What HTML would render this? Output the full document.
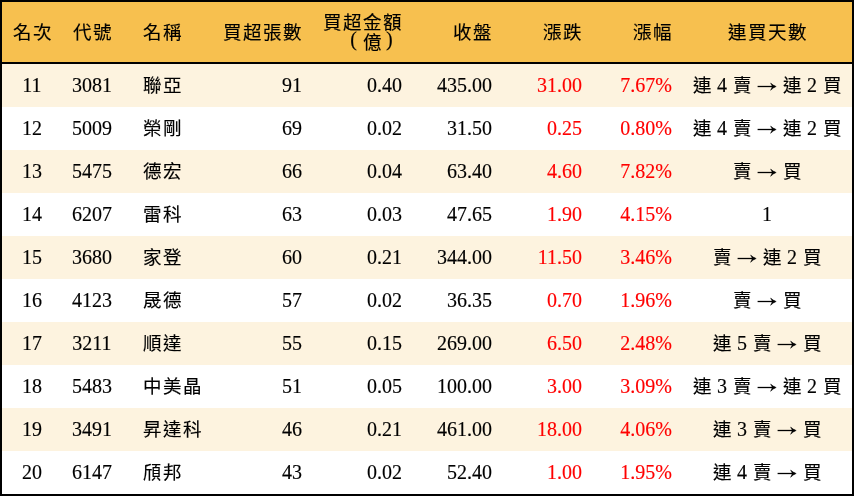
<!DOCTYPE html><html lang="zh-TW"><head><meta charset="utf-8"><style>*{margin:0;padding:0;box-sizing:border-box}
html,body{width:854px;height:496px;overflow:hidden;background:#fff}
body{font-family:"Liberation Serif",serif;font-size:20px;color:#000;position:relative}
#frame{position:absolute;left:0;top:0;width:854px;height:496px;border:2px solid #000;}
.hdr{position:absolute;left:2px;top:2px;width:850px;height:60px;background:#F7C04F}
.hline{position:absolute;left:2px;top:62px;width:850px;height:2px;background:#000}
.row{position:absolute;left:2px;width:850px;height:43px}
.cream{background:#FDF3DF}
.t{position:absolute;white-space:nowrap;line-height:20px;height:20px}
.r{text-align:right}
.ctr{text-align:center}
.red{color:#FF0000}
i{font-style:normal;display:inline-block}
.k{width:20px;text-align:center;font-size:18.5px;position:relative;top:0px}
.dg{width:10px;text-align:center;font-size:20px}
.sp{width:5px}
.ar{display:inline-block;width:20px;height:20px;vertical-align:top}
.ar svg{display:block}
.pl,.pr{width:20px;position:relative;top:-3px}
.pl{text-align:right;padding-right:5px}
.pr{text-align:left;padding-left:4px}

.l2{position:relative;top:-1px}
.t{will-change:transform;-webkit-text-stroke-width:0.15px}
.k{-webkit-text-stroke-width:0.15px}
</style></head><body>
<div class="hdr"></div>
<div class="t ctr" style="left:2px;top:22px;width:60px"><i class="k">名</i><i class="k">次</i></div>
<div class="t ctr" style="left:62px;top:22px;width:60px"><i class="k">代</i><i class="k">號</i></div>
<div class="t " style="left:142px;top:22px;width:80px"><i class="k">名</i><i class="k">稱</i></div>
<div class="t r" style="left:200px;top:22px;width:102px"><i class="k">買</i><i class="k">超</i><i class="k">張</i><i class="k">數</i></div>
<div class="t r" style="left:300px;top:12px;width:102px"><i class="k">買</i><i class="k">超</i><i class="k">金</i><i class="k">額</i><br><span class="l2"><i class="pl">(</i><i class="k">億</i><i class="pr">)</i></span></div>
<div class="t r" style="left:400px;top:22px;width:92px"><i class="k">收</i><i class="k">盤</i></div>
<div class="t r" style="left:490px;top:22px;width:92px"><i class="k">漲</i><i class="k">跌</i></div>
<div class="t r" style="left:580px;top:22px;width:92px"><i class="k">漲</i><i class="k">幅</i></div>
<div class="t ctr" style="left:682px;top:22px;width:170px"><i class="k">連</i><i class="k">買</i><i class="k">天</i><i class="k">數</i></div>
<div class="hline"></div>
<div class="row cream" style="top:64px"></div>
<div class="t ctr" style="left:2px;top:75px;width:60px">11</div>
<div class="t ctr" style="left:62px;top:75px;width:60px">3081</div>
<div class="t " style="left:142px;top:75px;width:80px"><i class="k">聯</i><i class="k">亞</i></div>
<div class="t r" style="left:200px;top:75px;width:102px">91</div>
<div class="t r" style="left:300px;top:75px;width:102px">0.40</div>
<div class="t r" style="left:400px;top:75px;width:92px">435.00</div>
<div class="t r red" style="left:490px;top:75px;width:92px">31.00</div>
<div class="t r red" style="left:580px;top:75px;width:92px">7.67%</div>
<div class="t ctr" style="left:682px;top:75px;width:170px"><i class="k">連</i><i class="sp"></i><i class="dg">4</i><i class="sp"></i><i class="k">賣</i><i class="sp"></i><b class="ar"><svg width="20" height="20" viewBox="0 0 20 20"><path d="M0.6 11.5H18" stroke="#000" stroke-width="1.3"/><path d="M13.6 8.1Q16.2 10.5 19.2 11.5Q16.2 12.6 13.6 15.3Q14.9 12.8 15.3 11.5Q14.9 10.3 13.6 8.1Z" fill="#000" stroke="#000" stroke-width="0.5"/></svg></b><i class="sp"></i><i class="k">連</i><i class="sp"></i><i class="dg">2</i><i class="sp"></i><i class="k">買</i></div>
<div class="row " style="top:107px"></div>
<div class="t ctr" style="left:2px;top:118px;width:60px">12</div>
<div class="t ctr" style="left:62px;top:118px;width:60px">5009</div>
<div class="t " style="left:142px;top:118px;width:80px"><i class="k">榮</i><i class="k">剛</i></div>
<div class="t r" style="left:200px;top:118px;width:102px">69</div>
<div class="t r" style="left:300px;top:118px;width:102px">0.02</div>
<div class="t r" style="left:400px;top:118px;width:92px">31.50</div>
<div class="t r red" style="left:490px;top:118px;width:92px">0.25</div>
<div class="t r red" style="left:580px;top:118px;width:92px">0.80%</div>
<div class="t ctr" style="left:682px;top:118px;width:170px"><i class="k">連</i><i class="sp"></i><i class="dg">4</i><i class="sp"></i><i class="k">賣</i><i class="sp"></i><b class="ar"><svg width="20" height="20" viewBox="0 0 20 20"><path d="M0.6 11.5H18" stroke="#000" stroke-width="1.3"/><path d="M13.6 8.1Q16.2 10.5 19.2 11.5Q16.2 12.6 13.6 15.3Q14.9 12.8 15.3 11.5Q14.9 10.3 13.6 8.1Z" fill="#000" stroke="#000" stroke-width="0.5"/></svg></b><i class="sp"></i><i class="k">連</i><i class="sp"></i><i class="dg">2</i><i class="sp"></i><i class="k">買</i></div>
<div class="row cream" style="top:150px"></div>
<div class="t ctr" style="left:2px;top:161px;width:60px">13</div>
<div class="t ctr" style="left:62px;top:161px;width:60px">5475</div>
<div class="t " style="left:142px;top:161px;width:80px"><i class="k">德</i><i class="k">宏</i></div>
<div class="t r" style="left:200px;top:161px;width:102px">66</div>
<div class="t r" style="left:300px;top:161px;width:102px">0.04</div>
<div class="t r" style="left:400px;top:161px;width:92px">63.40</div>
<div class="t r red" style="left:490px;top:161px;width:92px">4.60</div>
<div class="t r red" style="left:580px;top:161px;width:92px">7.82%</div>
<div class="t ctr" style="left:682px;top:161px;width:170px"><i class="k">賣</i><i class="sp"></i><b class="ar"><svg width="20" height="20" viewBox="0 0 20 20"><path d="M0.6 11.5H18" stroke="#000" stroke-width="1.3"/><path d="M13.6 8.1Q16.2 10.5 19.2 11.5Q16.2 12.6 13.6 15.3Q14.9 12.8 15.3 11.5Q14.9 10.3 13.6 8.1Z" fill="#000" stroke="#000" stroke-width="0.5"/></svg></b><i class="sp"></i><i class="k">買</i></div>
<div class="row " style="top:193px"></div>
<div class="t ctr" style="left:2px;top:204px;width:60px">14</div>
<div class="t ctr" style="left:62px;top:204px;width:60px">6207</div>
<div class="t " style="left:142px;top:204px;width:80px"><i class="k">雷</i><i class="k">科</i></div>
<div class="t r" style="left:200px;top:204px;width:102px">63</div>
<div class="t r" style="left:300px;top:204px;width:102px">0.03</div>
<div class="t r" style="left:400px;top:204px;width:92px">47.65</div>
<div class="t r red" style="left:490px;top:204px;width:92px">1.90</div>
<div class="t r red" style="left:580px;top:204px;width:92px">4.15%</div>
<div class="t ctr" style="left:682px;top:204px;width:170px">1</div>
<div class="row cream" style="top:236px"></div>
<div class="t ctr" style="left:2px;top:247px;width:60px">15</div>
<div class="t ctr" style="left:62px;top:247px;width:60px">3680</div>
<div class="t " style="left:142px;top:247px;width:80px"><i class="k">家</i><i class="k">登</i></div>
<div class="t r" style="left:200px;top:247px;width:102px">60</div>
<div class="t r" style="left:300px;top:247px;width:102px">0.21</div>
<div class="t r" style="left:400px;top:247px;width:92px">344.00</div>
<div class="t r red" style="left:490px;top:247px;width:92px">11.50</div>
<div class="t r red" style="left:580px;top:247px;width:92px">3.46%</div>
<div class="t ctr" style="left:682px;top:247px;width:170px"><i class="k">賣</i><i class="sp"></i><b class="ar"><svg width="20" height="20" viewBox="0 0 20 20"><path d="M0.6 11.5H18" stroke="#000" stroke-width="1.3"/><path d="M13.6 8.1Q16.2 10.5 19.2 11.5Q16.2 12.6 13.6 15.3Q14.9 12.8 15.3 11.5Q14.9 10.3 13.6 8.1Z" fill="#000" stroke="#000" stroke-width="0.5"/></svg></b><i class="sp"></i><i class="k">連</i><i class="sp"></i><i class="dg">2</i><i class="sp"></i><i class="k">買</i></div>
<div class="row " style="top:279px"></div>
<div class="t ctr" style="left:2px;top:290px;width:60px">16</div>
<div class="t ctr" style="left:62px;top:290px;width:60px">4123</div>
<div class="t " style="left:142px;top:290px;width:80px"><i class="k">晟</i><i class="k">德</i></div>
<div class="t r" style="left:200px;top:290px;width:102px">57</div>
<div class="t r" style="left:300px;top:290px;width:102px">0.02</div>
<div class="t r" style="left:400px;top:290px;width:92px">36.35</div>
<div class="t r red" style="left:490px;top:290px;width:92px">0.70</div>
<div class="t r red" style="left:580px;top:290px;width:92px">1.96%</div>
<div class="t ctr" style="left:682px;top:290px;width:170px"><i class="k">賣</i><i class="sp"></i><b class="ar"><svg width="20" height="20" viewBox="0 0 20 20"><path d="M0.6 11.5H18" stroke="#000" stroke-width="1.3"/><path d="M13.6 8.1Q16.2 10.5 19.2 11.5Q16.2 12.6 13.6 15.3Q14.9 12.8 15.3 11.5Q14.9 10.3 13.6 8.1Z" fill="#000" stroke="#000" stroke-width="0.5"/></svg></b><i class="sp"></i><i class="k">買</i></div>
<div class="row cream" style="top:322px"></div>
<div class="t ctr" style="left:2px;top:333px;width:60px">17</div>
<div class="t ctr" style="left:62px;top:333px;width:60px">3211</div>
<div class="t " style="left:142px;top:333px;width:80px"><i class="k">順</i><i class="k">達</i></div>
<div class="t r" style="left:200px;top:333px;width:102px">55</div>
<div class="t r" style="left:300px;top:333px;width:102px">0.15</div>
<div class="t r" style="left:400px;top:333px;width:92px">269.00</div>
<div class="t r red" style="left:490px;top:333px;width:92px">6.50</div>
<div class="t r red" style="left:580px;top:333px;width:92px">2.48%</div>
<div class="t ctr" style="left:682px;top:333px;width:170px"><i class="k">連</i><i class="sp"></i><i class="dg">5</i><i class="sp"></i><i class="k">賣</i><i class="sp"></i><b class="ar"><svg width="20" height="20" viewBox="0 0 20 20"><path d="M0.6 11.5H18" stroke="#000" stroke-width="1.3"/><path d="M13.6 8.1Q16.2 10.5 19.2 11.5Q16.2 12.6 13.6 15.3Q14.9 12.8 15.3 11.5Q14.9 10.3 13.6 8.1Z" fill="#000" stroke="#000" stroke-width="0.5"/></svg></b><i class="sp"></i><i class="k">買</i></div>
<div class="row " style="top:365px"></div>
<div class="t ctr" style="left:2px;top:376px;width:60px">18</div>
<div class="t ctr" style="left:62px;top:376px;width:60px">5483</div>
<div class="t " style="left:142px;top:376px;width:80px"><i class="k">中</i><i class="k">美</i><i class="k">晶</i></div>
<div class="t r" style="left:200px;top:376px;width:102px">51</div>
<div class="t r" style="left:300px;top:376px;width:102px">0.05</div>
<div class="t r" style="left:400px;top:376px;width:92px">100.00</div>
<div class="t r red" style="left:490px;top:376px;width:92px">3.00</div>
<div class="t r red" style="left:580px;top:376px;width:92px">3.09%</div>
<div class="t ctr" style="left:682px;top:376px;width:170px"><i class="k">連</i><i class="sp"></i><i class="dg">3</i><i class="sp"></i><i class="k">賣</i><i class="sp"></i><b class="ar"><svg width="20" height="20" viewBox="0 0 20 20"><path d="M0.6 11.5H18" stroke="#000" stroke-width="1.3"/><path d="M13.6 8.1Q16.2 10.5 19.2 11.5Q16.2 12.6 13.6 15.3Q14.9 12.8 15.3 11.5Q14.9 10.3 13.6 8.1Z" fill="#000" stroke="#000" stroke-width="0.5"/></svg></b><i class="sp"></i><i class="k">連</i><i class="sp"></i><i class="dg">2</i><i class="sp"></i><i class="k">買</i></div>
<div class="row cream" style="top:408px"></div>
<div class="t ctr" style="left:2px;top:419px;width:60px">19</div>
<div class="t ctr" style="left:62px;top:419px;width:60px">3491</div>
<div class="t " style="left:142px;top:419px;width:80px"><i class="k">昇</i><i class="k">達</i><i class="k">科</i></div>
<div class="t r" style="left:200px;top:419px;width:102px">46</div>
<div class="t r" style="left:300px;top:419px;width:102px">0.21</div>
<div class="t r" style="left:400px;top:419px;width:92px">461.00</div>
<div class="t r red" style="left:490px;top:419px;width:92px">18.00</div>
<div class="t r red" style="left:580px;top:419px;width:92px">4.06%</div>
<div class="t ctr" style="left:682px;top:419px;width:170px"><i class="k">連</i><i class="sp"></i><i class="dg">3</i><i class="sp"></i><i class="k">賣</i><i class="sp"></i><b class="ar"><svg width="20" height="20" viewBox="0 0 20 20"><path d="M0.6 11.5H18" stroke="#000" stroke-width="1.3"/><path d="M13.6 8.1Q16.2 10.5 19.2 11.5Q16.2 12.6 13.6 15.3Q14.9 12.8 15.3 11.5Q14.9 10.3 13.6 8.1Z" fill="#000" stroke="#000" stroke-width="0.5"/></svg></b><i class="sp"></i><i class="k">買</i></div>
<div class="row " style="top:451px"></div>
<div class="t ctr" style="left:2px;top:462px;width:60px">20</div>
<div class="t ctr" style="left:62px;top:462px;width:60px">6147</div>
<div class="t " style="left:142px;top:462px;width:80px"><i class="k">頎</i><i class="k">邦</i></div>
<div class="t r" style="left:200px;top:462px;width:102px">43</div>
<div class="t r" style="left:300px;top:462px;width:102px">0.02</div>
<div class="t r" style="left:400px;top:462px;width:92px">52.40</div>
<div class="t r red" style="left:490px;top:462px;width:92px">1.00</div>
<div class="t r red" style="left:580px;top:462px;width:92px">1.95%</div>
<div class="t ctr" style="left:682px;top:462px;width:170px"><i class="k">連</i><i class="sp"></i><i class="dg">4</i><i class="sp"></i><i class="k">賣</i><i class="sp"></i><b class="ar"><svg width="20" height="20" viewBox="0 0 20 20"><path d="M0.6 11.5H18" stroke="#000" stroke-width="1.3"/><path d="M13.6 8.1Q16.2 10.5 19.2 11.5Q16.2 12.6 13.6 15.3Q14.9 12.8 15.3 11.5Q14.9 10.3 13.6 8.1Z" fill="#000" stroke="#000" stroke-width="0.5"/></svg></b><i class="sp"></i><i class="k">買</i></div>
<div id="frame"></div>
</body></html>
